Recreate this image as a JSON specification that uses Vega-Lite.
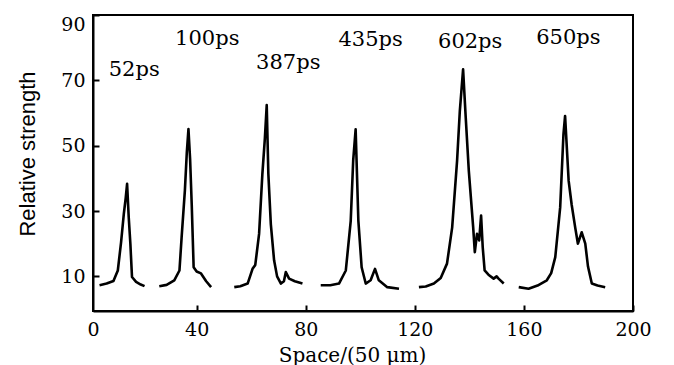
{
  "$schema": "https://vega.github.io/schema/vega-lite/v6.json",
  "width": 540,
  "height": 296,
  "autosize": {"type": "none"},
  "padding": {"left": 93, "top": 15, "right": 41, "bottom": 54},
  "background": "white",
  "config": {
    "view": {"stroke": "black", "strokeWidth": 2},
    "axis": {
      "grid": false,
      "domainColor": "black",
      "domainWidth": 2,
      "tickColor": "black",
      "tickWidth": 2,
      "tickSize": -6,
      "labelColor": "black",
      "labelFont": "DejaVu Serif",
      "labelFontSize": 19,
      "titleColor": "black",
      "titleFontWeight": "normal"
    }
  },
  "datasets": {
    "profiles": [
      {"series": "52ps", "x": 4.4, "y": 7.3}, {"series": "52ps", "x": 7, "y": 7.8}, {"series": "52ps", "x": 9.5, "y": 8.6}, {"series": "52ps", "x": 11.1, "y": 11.8}, {"series": "52ps", "x": 12.3, "y": 20.5}, {"series": "52ps", "x": 13.3, "y": 29.1}, {"series": "52ps", "x": 14, "y": 34}, {"series": "52ps", "x": 14.5, "y": 38.3}, {"series": "52ps", "x": 15.1, "y": 28.1}, {"series": "52ps", "x": 15.7, "y": 20}, {"series": "52ps", "x": 16.3, "y": 9.8}, {"series": "52ps", "x": 17.8, "y": 8.3}, {"series": "52ps", "x": 19.5, "y": 7.5}, {"series": "52ps", "x": 20.9, "y": 7.0},
      {"series": "100ps", "x": 26.3, "y": 7.0}, {"series": "100ps", "x": 29, "y": 7.4}, {"series": "100ps", "x": 31.8, "y": 8.8}, {"series": "100ps", "x": 33.7, "y": 11.8}, {"series": "100ps", "x": 34.5, "y": 22}, {"series": "100ps", "x": 35.7, "y": 36.4}, {"series": "100ps", "x": 36.4, "y": 48}, {"series": "100ps", "x": 37, "y": 55.1}, {"series": "100ps", "x": 37.6, "y": 46}, {"series": "100ps", "x": 38.2, "y": 32}, {"series": "100ps", "x": 38.9, "y": 12.8}, {"series": "100ps", "x": 40, "y": 11.5}, {"series": "100ps", "x": 41.6, "y": 10.9}, {"series": "100ps", "x": 43.5, "y": 8.5}, {"series": "100ps", "x": 45.3, "y": 6.7},
      {"series": "387ps", "x": 53.8, "y": 6.7}, {"series": "387ps", "x": 56, "y": 7.0}, {"series": "387ps", "x": 58.7, "y": 7.8}, {"series": "387ps", "x": 60.5, "y": 12.3}, {"series": "387ps", "x": 61.5, "y": 13.5}, {"series": "387ps", "x": 62.9, "y": 23}, {"series": "387ps", "x": 64.1, "y": 41.3}, {"series": "387ps", "x": 65, "y": 52}, {"series": "387ps", "x": 65.7, "y": 62.4}, {"series": "387ps", "x": 66.3, "y": 41.3}, {"series": "387ps", "x": 67.2, "y": 26}, {"series": "387ps", "x": 68.4, "y": 14.9}, {"series": "387ps", "x": 69.5, "y": 10}, {"series": "387ps", "x": 70.9, "y": 7.8}, {"series": "387ps", "x": 72, "y": 8.5}, {"series": "387ps", "x": 72.7, "y": 11.3}, {"series": "387ps", "x": 73.9, "y": 9.3}, {"series": "387ps", "x": 76, "y": 8.5}, {"series": "387ps", "x": 78.8, "y": 7.8},
      {"series": "435ps", "x": 85.5, "y": 7.3}, {"series": "435ps", "x": 89, "y": 7.3}, {"series": "435ps", "x": 92.2, "y": 7.8}, {"series": "435ps", "x": 94.7, "y": 11.8}, {"series": "435ps", "x": 96.5, "y": 27}, {"series": "435ps", "x": 97.4, "y": 45.4}, {"series": "435ps", "x": 98.3, "y": 55}, {"series": "435ps", "x": 99.3, "y": 27}, {"series": "435ps", "x": 100.5, "y": 12.8}, {"series": "435ps", "x": 102, "y": 7.8}, {"series": "435ps", "x": 103.8, "y": 8.8}, {"series": "435ps", "x": 105.4, "y": 12.3}, {"series": "435ps", "x": 106.8, "y": 8.8}, {"series": "435ps", "x": 109.9, "y": 6.7}, {"series": "435ps", "x": 114.2, "y": 6.2},
      {"series": "602ps", "x": 121.5, "y": 6.7}, {"series": "602ps", "x": 124, "y": 6.9}, {"series": "602ps", "x": 127, "y": 7.8}, {"series": "602ps", "x": 129.5, "y": 9.5}, {"series": "602ps", "x": 131.8, "y": 13.9}, {"series": "602ps", "x": 133.7, "y": 25}, {"series": "602ps", "x": 135.5, "y": 45.4}, {"series": "602ps", "x": 136.5, "y": 60.6}, {"series": "602ps", "x": 137.7, "y": 73.4}, {"series": "602ps", "x": 138.6, "y": 59.6}, {"series": "602ps", "x": 139.8, "y": 42.3}, {"series": "602ps", "x": 141.4, "y": 25}, {"series": "602ps", "x": 142, "y": 17.4}, {"series": "602ps", "x": 142.8, "y": 23}, {"series": "602ps", "x": 143.6, "y": 21}, {"series": "602ps", "x": 144.3, "y": 28.6}, {"series": "602ps", "x": 144.9, "y": 18.9}, {"series": "602ps", "x": 145.6, "y": 11.8}, {"series": "602ps", "x": 147, "y": 10.5}, {"series": "602ps", "x": 148.9, "y": 9.3}, {"series": "602ps", "x": 150, "y": 10}, {"series": "602ps", "x": 150.7, "y": 9.3}, {"series": "602ps", "x": 152.6, "y": 7.8},
      {"series": "650ps", "x": 158.1, "y": 6.7}, {"series": "650ps", "x": 161.7, "y": 6.2}, {"series": "650ps", "x": 165, "y": 7.2}, {"series": "650ps", "x": 168.4, "y": 8.8}, {"series": "650ps", "x": 170, "y": 11}, {"series": "650ps", "x": 171.5, "y": 15.9}, {"series": "650ps", "x": 173.3, "y": 31.1}, {"series": "650ps", "x": 174.5, "y": 53.5}, {"series": "650ps", "x": 175.1, "y": 59.1}, {"series": "650ps", "x": 176.4, "y": 39.3}, {"series": "650ps", "x": 177.5, "y": 32}, {"series": "650ps", "x": 178.8, "y": 25}, {"series": "650ps", "x": 179.8, "y": 20}, {"series": "650ps", "x": 181.2, "y": 23.5}, {"series": "650ps", "x": 182.5, "y": 20}, {"series": "650ps", "x": 183.5, "y": 13}, {"series": "650ps", "x": 184.9, "y": 7.8}, {"series": "650ps", "x": 187, "y": 7.2}, {"series": "650ps", "x": 189.8, "y": 6.7}
    ],
    "labels": [
      {"label": "52ps", "x": 17.1, "y": 73.2},
      {"label": "100ps", "x": 43.9, "y": 82.7},
      {"label": "387ps", "x": 73.6, "y": 75.3},
      {"label": "435ps", "x": 103.8, "y": 82.3},
      {"label": "602ps", "x": 140.3, "y": 81.7},
      {"label": "650ps", "x": 176.3, "y": 83}
    ]
  },
  "layer": [
    {
      "data": {"name": "profiles"},
      "mark": {"type": "line", "color": "black", "strokeWidth": 2.6, "strokeJoin": "round"},
      "encoding": {
        "x": {
          "field": "x", "type": "quantitative",
          "scale": {"domain": [2, 200], "nice": false, "zero": false},
          "axis": {
            "values": [2, 40, 80, 120, 160, 200],
            "labelExpr": "datum.value == 2 ? '0' : datum.label",
            "labelPadding": 15,
            "labelFlush": false,
            "tickColor": {"condition": {"test": "datum.value == 2", "value": "transparent"}, "value": "black"},
            "title": "Space/(50 μm)",
            "titleFont": "DejaVu Serif",
            "titleFontSize": 20,
            "titleX": 259,
            "titleY": 44,
            "titleBaseline": "middle"
          }
        },
        "y": {
          "field": "y", "type": "quantitative",
          "scale": {"domain": [-0.6, 90], "nice": false, "zero": false},
          "axis": {
            "values": [10, 30, 50, 70, 90],
            "labelPadding": 14,
            "labelFlush": false,
            "labelBaseline": {"condition": {"test": "datum.value == 90", "value": "top"}, "value": "middle"},
            "title": "Relative strength",
            "titleFont": "Liberation Sans",
            "titleFontSize": 22,
            "titleX": -66,
            "titleY": 138.5,
            "titleBaseline": "middle",
            "titleAngle": -90
          }
        },
        "detail": {"field": "series"}
      }
    },
    {
      "data": {"name": "labels"},
      "mark": {"type": "text", "font": "DejaVu Serif", "fontSize": 21, "color": "black", "align": "center", "baseline": "middle"},
      "encoding": {
        "x": {"field": "x", "type": "quantitative"},
        "y": {"field": "y", "type": "quantitative"},
        "text": {"field": "label"}
      }
    }
  ]
}
